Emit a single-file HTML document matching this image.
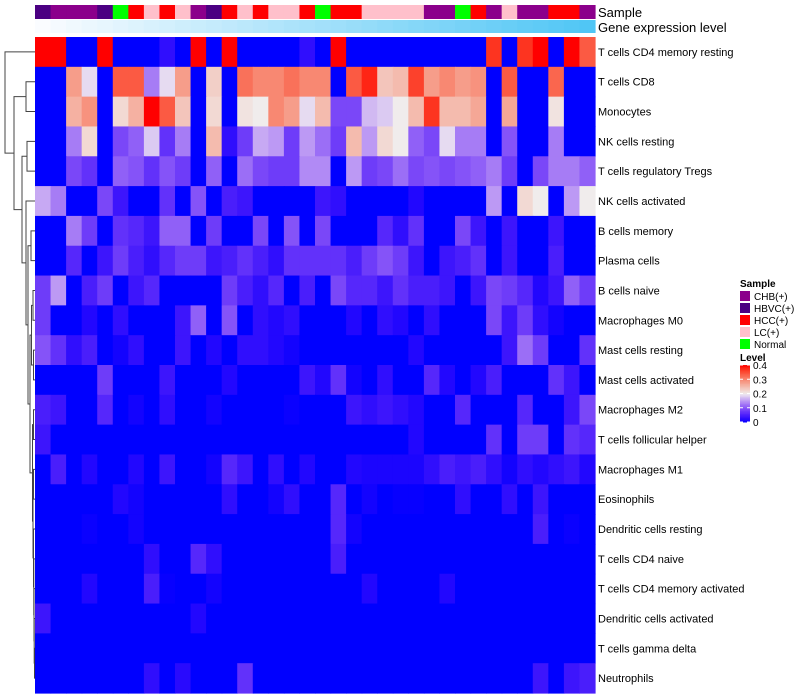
<!DOCTYPE html>
<html><head><meta charset="utf-8">
<style>
body{margin:0;background:#fff;}
svg{display:block;font-family:"Liberation Sans",sans-serif;}
</style></head>
<body>
<svg id="chart" width="800" height="700"></svg>
<script>
const rowNames=["T cells CD4 memory resting","T cells CD8","Monocytes","NK cells resting","T cells regulatory  Tregs","NK cells activated","B cells memory","Plasma cells","B cells naive","Macrophages M0","Mast cells resting","Mast cells activated","Macrophages M2","T cells follicular helper","Macrophages M1","Eosinophils","Dendritic cells resting","T cells CD4 naive","T cells CD4 memory activated","Dendritic cells activated","T cells gamma delta","Neutrophils"];
const sampleGroups=["HBVC(+)","CHB(+)","CHB(+)","CHB(+)","HBVC(+)","Normal","HCC(+)","LC(+)","HCC(+)","LC(+)","CHB(+)","HBVC(+)","HCC(+)","LC(+)","HCC(+)","LC(+)","LC(+)","HCC(+)","Normal","HCC(+)","HCC(+)","LC(+)","LC(+)","LC(+)","LC(+)","CHB(+)","CHB(+)","Normal","HCC(+)","CHB(+)","LC(+)","CHB(+)","CHB(+)","HCC(+)","HCC(+)","CHB(+)"];
const groupNames=["CHB(+)","HBVC(+)","HCC(+)","LC(+)","Normal"];
const groupColors=["#8B008B","#4B0082","#FF0000","#FFC0CB","#00FF00"];
const legendTicks=[0,0.1,0.2,0.3,0.4];
const r1=[.4,.4,0,0,.4,0,0,0,.03,0,.4,0,.4,0,0,0,0,.03,0,.4,0,0,0,0,0,0,0,0,0,.37,0,.37,.4,0,.4,.34];
const r2=[0,0,.28,.19,0,.34,.34,.13,.19,.28,0,.23,0,.32,.3,.3,.32,.3,.3,0,.34,.38,.24,.25,.36,.28,.3,.28,.29,0,.34,0,0,.33,0,0];
const r3=[0,0,.26,.29,0,.22,.26,.4,.34,.24,0,.22,0,.21,.2,.3,.28,.19,.25,.09,.09,.17,.18,.2,.25,.37,.25,.25,.27,0,.27,0,0,.21,0,0];
const r4=[0,0,.13,.22,0,.09,.11,.18,.07,.13,0,.25,.03,.08,.16,.15,.08,.15,.12,.08,.25,.15,.22,.2,.11,.09,.19,.13,.13,0,.1,0,0,.13,0,0];
const r5=[0,0,.09,.07,0,.11,.1,.07,.1,.08,0,.11,0,.12,.09,.08,.08,.14,.14,0,.15,.08,.09,.12,.09,.1,.09,.1,.11,.13,.08,0,.09,.13,.13,.11];
const r6=[.16,.13,0,0,.09,.04,0,0,.07,0,.1,0,.05,.04,0,0,0,0,.04,.03,0,0,0,0,.02,0,0,0,0,.15,0,.22,.2,0,.15,.2];
const r7=[0,0,.13,.08,0,.07,.06,.04,.11,.11,0,.08,0,0,.09,0,.1,0,.09,0,0,0,.06,.03,.07,0,0,.09,.04,0,.04,0,0,.04,0,0];
const r8=[0,0,.06,0,.04,.08,.05,.03,.06,.08,.08,.04,.05,.07,.05,.03,.07,.07,.07,.07,.05,.08,.1,.08,.04,0,.04,.05,.07,0,.04,0,0,.05,0,0];
const r9=[.08,.15,0,.05,.08,0,.04,.06,0,0,0,0,.08,.05,.03,.06,0,.05,0,.09,.06,.06,.04,.07,.05,.05,.04,0,.04,.09,.08,.06,.02,.04,.11,.08];
const r10=[.08,0,0,.02,0,.03,0,0,0,.04,.11,0,.1,0,.03,.02,.03,0,0,0,.02,0,.03,.02,0,.03,0,0,0,.09,.04,.08,.03,.01,0,0];
const r11=[.1,.07,.03,.05,0,.01,.03,0,0,.04,0,.02,0,.03,.03,.02,.01,0,0,0,0,0,0,0,.02,0,0,0,0,0,.04,.12,.08,0,0,.07];
const r12=[0,0,0,0,.08,0,0,0,.04,0,0,0,.02,0,0,0,0,.04,.02,.07,.01,0,.03,0,0,.06,.02,0,.02,.05,0,0,0,.07,.04,0];
const r13=[.05,.04,0,0,.06,0,.01,0,.03,0,0,.01,0,0,0,0,.005,0,0,0,.04,.03,.04,.03,.02,0,0,.06,0,0,0,.06,0,0,.04,.09];
const r14=[.04,0,0,0,0,0,0,0,0,0,0,0,0,0,0,0,0,0,0,0,0,0,0,0,.02,0,0,0,0,.07,0,.08,.08,0,.07,.06];
const r15=[0,.05,0,.02,0,0,.02,0,.04,0,0,.01,.06,.04,0,.03,0,.02,0,0,.02,.015,.015,.015,.015,.03,.05,.04,.05,.03,.01,.03,.02,.03,.04,.02];
const r16=[0,0,0,0,0,.02,.01,0,0,0,0,0,.03,0,0,.01,.03,0,0,.06,0,.01,0,.003,.003,0,0,.03,0,0,.03,0,.04,0,0,0];
const r17=[0,0,0,.005,0,0,.01,0,0,0,0,0,0,0,0,0,0,0,0,.06,.01,0,0,0,0,0,0,0,0,0,0,0,.05,0,.005,0];
const r18=[0,0,0,0,0,0,0,.03,0,0,.06,.03,0,0,0,0,0,0,0,.05,0,0,0,0,0,0,0,0,0,0,0,0,0,0,0,0];
const r19=[0,0,0,.02,0,0,0,.05,.003,0,0,.01,0,0,0,0,0,0,0,0,0,.02,0,0,0,0,.02,0,0,0,0,0,0,0,0,0];
const r20=[.04,0,0,0,0,0,0,0,0,0,.02,0,0,0,0,0,0,0,0,0,0,0,0,0,0,0,0,0,0,0,0,0,0,0,0,0];
const r21=[0,0,0,0,0,0,0,0,0,0,0,0,0,0,0,0,0,0,0,0,0,0,0,0,0,0,0,0,0,0,0,0,0,0,0,0];
const r22=[0,0,0,0,0,0,0,.03,0,.025,0,0,0,.07,0,0,0,0,0,0,0,0,0,0,0,0,0,0,0,0,0,0,.04,0,.04,.05];
const values=[r1,r2,r3,r4,r5,r6,r7,r8,r9,r10,r11,r12,r13,r14,r15,r16,r17,r18,r19,r20,r21,r22];

const NS="http://www.w3.org/2000/svg";
const svg=document.getElementById('chart');
const X0=35,X1=595,Y0=37,Y1=693;
const nCol=r1.length,nRow=values.length;
const cw=(X1-X0)/nCol,rh=(Y1-Y0)/nRow;
const xPos=c=>X0+c*cw;
const yPos=r=>Y0+r*rh;
const yMid=r=>Y0+(r+0.5)*rh;
function mk(tag,attrs){const e=document.createElementNS(NS,tag);for(const k in attrs)e.setAttribute(k,attrs[k]);svg.appendChild(e);return e;}
function lerp(a,b,t){return Math.round(a+(b-a)*t);}
function colorScale(v){
  let t=Math.max(0,Math.min(1,v/0.4));
  if(t<0.5){const u=t/0.5;
    return `rgb(${Math.round(240*Math.pow(u,0.85))},${Math.round(236*Math.pow(u,1.5))},${lerp(255,240,u)})`;}
  const u=(t-0.5)/0.5;
  return `rgb(${lerp(240,255,u)},${Math.round(236*Math.pow(1-u,0.8))},${Math.round(236*Math.pow(1-u,1.05))})`;
}
sampleGroups.forEach((g,c)=>{
  const e=mk('rect',{x:xPos(c),y:5,width:cw+0.6,height:14,fill:groupColors[groupNames.indexOf(g)]});
  
  
  const t=c/(nCol-1);
  const e2=mk('rect',{x:xPos(c),y:20,width:cw+0.6,height:13,fill:`rgb(${lerp(250,80,t)},${lerp(252,198,t)},${lerp(255,245,t)})`});
  
  
});
let tx=mk('text',{x:598,y:17,'font-size':13});tx.textContent="Sample";

tx=mk('text',{x:598,y:32,'font-size':13});tx.textContent="Gene expression level";

values.forEach((row,r)=>{
  row.forEach((v,c)=>{
    const e=mk('rect',{x:xPos(c),y:yPos(r),width:cw+0.6,height:rh+0.6,fill:colorScale(v)});
    
    
  });
  const t=mk('text',{x:598,y:yMid(r)+4,'font-size':11});
  t.textContent=rowNames[r];
  
  
});
function leaf(i){return {y:yMid(i),x:X0};}
function node(a,b,x){
  const g=mk('path',{d:`M${a.x},${a.y}H${x}V${b.y}H${b.x}`,fill:'none',stroke:'#444','stroke-width':1});
  
  
  return {x:x,y:(a.y+b.y)/2};
}
const n78=node(leaf(6),leaf(7),31);
const n910=node(leaf(8),leaf(9),33);
const n1112=node(leaf(10),leaf(11),33.5);
const n912=node(n910,n1112,31.5);
let chain=node(leaf(20),leaf(21),34.5);
chain=node(leaf(19),chain,34.2);
chain=node(leaf(18),chain,34);
chain=node(leaf(17),chain,33.8);
chain=node(leaf(16),chain,33.5);
const n1516=node(leaf(14),leaf(15),33.5);
const n1314=node(leaf(12),leaf(13),33.5);
let low=node(n1516,chain,33);
low=node(n1314,low,32.5);
const G=node(n912,low,30);
const F=node(n78,G,28);
const E=node(leaf(5),F,26);
const D=node(leaf(3),leaf(4),27);
const C=node(D,E,22);
const B=node(leaf(1),leaf(2),26);
const A=node(B,C,14);
node(leaf(0),A,5);
tx=mk('text',{x:740,y:287,'font-size':10,'font-weight':'bold'});tx.textContent="Sample";

groupNames.forEach((g,i)=>{
  const s=mk('rect',{x:740,y:291+i*12,width:10,height:10,fill:groupColors[i]});
  
  const t=mk('text',{x:754,y:300+i*12,'font-size':10});t.textContent=g;
  
});
tx=mk('text',{x:740,y:361,'font-size':10,'font-weight':'bold'});tx.textContent="Level";

const LB0=422,LB1=365;
for(let k=0;k<40;k++){
  const v=0.4*k/40;
  const s=mk('rect',{x:740,y:LB0-(k+1)*(LB0-LB1)/40,width:10,height:(LB0-LB1)/40+0.5,fill:colorScale(v+0.005)});
  
}
legendTicks.forEach(v=>{
  const y=LB0-(v/0.4)*(LB0-LB1);
  const l=mk('line',{x1:740,x2:743,y1:y,y2:y,stroke:'#fff'});
  
  const l2=mk('line',{x1:747,x2:750,y1:y,y2:y,stroke:'#fff'});
  
  const t=mk('text',{x:753,y:y+4,'font-size':10});t.textContent=String(v);
  
});
</script>
</body></html>
